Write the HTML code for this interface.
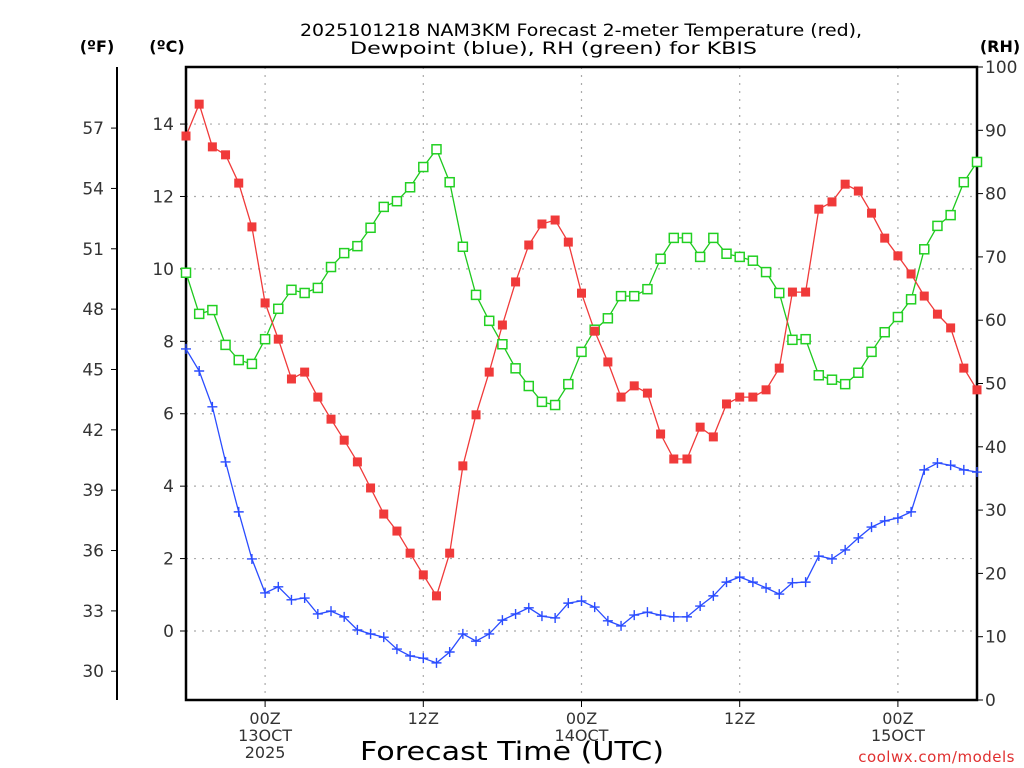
<!DOCTYPE html>
<html><head><meta charset="utf-8"><style>
html,body{margin:0;padding:0;background:#fff;}
svg{display:block;font-family:"DejaVu Sans","Liberation Sans",sans-serif;}
</style></head><body>
<svg id="chart" width="1024" height="768" viewBox="0 0 1024 768" xmlns="http://www.w3.org/2000/svg">
<rect width="1024" height="768" fill="#fff"/>
<g id="grid"></g>
<g id="axes"></g>
<g id="series"></g>
<text x="300" y="36" font-size="17" textLength="562" lengthAdjust="spacingAndGlyphs">2025101218 NAM3KM Forecast 2-meter Temperature (red),</text>
<text x="350" y="54" font-size="17" textLength="407" lengthAdjust="spacingAndGlyphs">Dewpoint (blue), RH (green) for KBIS</text>
<text x="97" y="52" font-size="16" font-weight="bold" text-anchor="middle">(ºF)</text>
<text x="167" y="52" font-size="16" font-weight="bold" text-anchor="middle">(ºC)</text>
<text x="1000" y="52" font-size="16" font-weight="bold" text-anchor="middle">(RH)</text>
<text x="360" y="760" font-size="26" textLength="304" lengthAdjust="spacingAndGlyphs">Forecast Time (UTC)</text>
<text x="1015" y="762" font-size="15" fill="#e03030" text-anchor="end" letter-spacing="0.5">coolwx.com/models</text>
</svg>
<script>
const tempC = [13.67,14.55,13.37,13.15,12.37,11.16,9.06,8.06,6.96,7.15,6.46,5.85,5.27,4.67,3.95,3.23,2.76,2.15,1.55,0.97,2.15,4.56,5.97,7.15,8.45,9.64,10.66,11.24,11.35,10.74,9.33,8.28,7.43,6.46,6.77,6.57,5.44,4.75,4.75,5.63,5.36,6.27,6.46,6.46,6.66,7.26,9.36,9.36,11.65,11.85,12.34,12.15,11.54,10.85,10.36,9.86,9.25,8.75,8.37,7.26,6.66];
const dewC = [7.79,7.18,6.19,4.67,3.29,1.99,1.05,1.22,0.86,0.91,0.47,0.55,0.39,0.03,-0.08,-0.17,-0.50,-0.69,-0.75,-0.88,-0.58,-0.08,-0.28,-0.08,0.30,0.47,0.64,0.41,0.36,0.77,0.83,0.66,0.28,0.14,0.44,0.52,0.44,0.39,0.39,0.69,0.97,1.35,1.49,1.35,1.19,1.02,1.33,1.35,2.07,1.99,2.24,2.57,2.87,3.04,3.12,3.29,4.45,4.64,4.58,4.45,4.39];
const rh = [67.5,61.0,61.6,56.1,53.7,53.1,57.0,61.8,64.8,64.3,65.1,68.4,70.6,71.7,74.6,77.9,78.8,81.0,84.2,87.0,81.8,71.6,64.0,59.9,56.2,52.4,49.6,47.1,46.6,49.9,55.0,58.5,60.3,63.8,63.8,64.9,69.7,73.0,73.0,70.0,73.0,70.5,70.0,69.4,67.6,64.3,56.9,57.0,51.3,50.6,49.9,51.7,55.0,58.1,60.5,63.3,71.2,74.9,76.6,81.8,85.0];
const cTicks = [0,2,4,6,8,10,12,14];
const fTicks = [30,33,36,39,42,45,48,51,54,57];
const rhTicks = [0,10,20,30,40,50,60,70,80,90,100];
const timeTicks = [6,18,30,42,54];
const timeLabels = [["00Z","13OCT","2025"],["12Z"],["00Z","14OCT"],["12Z"],["00Z","15OCT"]];

const NS="http://www.w3.org/2000/svg";
const L=186,R=977,T=67,B=700;
const xS=h=>L+(R-L)*h/60;
const yC=c=>631-c*36.21;
const yF=f=>yC((f-32)*5/9);
const yR=r=>B-(B-T)*r/100;
function mk(p,tag,a){const e=document.createElementNS(NS,tag);for(const k in a)e.setAttribute(k,a[k]);p.appendChild(e);return e;}
const grid=document.getElementById('grid'),axes=document.getElementById('axes'),ser=document.getElementById('series');

cTicks.forEach(c=>{
  const y=yC(c);
  const g=mk(grid,'line',{x1:L,x2:R,y1:y,y2:y,stroke:'#aaa','stroke-dasharray':'2,6','stroke-width':1.2});
  
  
  const t=mk(axes,'line',{x1:L-6,x2:L,y1:y,y2:y,stroke:'#000','stroke-width':1});
  
  
  const tx=mk(axes,'text',{x:L-12,y:y+6,'font-size':17,'text-anchor':'end',fill:'#333'});tx.textContent=c;
  
  
});
fTicks.forEach(f=>{
  const y=yF(f);
  const t=mk(axes,'line',{x1:111,x2:117,y1:y,y2:y,stroke:'#000','stroke-width':1});
  
  
  const tx=mk(axes,'text',{x:104,y:y+6,'font-size':17,'text-anchor':'end',fill:'#333'});tx.textContent=f;
  
  
});
rhTicks.forEach(r=>{
  const y=yR(r);
  const t=mk(axes,'line',{x1:R,x2:R+6,y1:y,y2:y,stroke:'#000','stroke-width':1});
  
  
  const tx=mk(axes,'text',{x:985,y:y+6,'font-size':17,'text-anchor':'start',fill:'#333'});tx.textContent=r;
  
  
});
timeTicks.forEach((h,i)=>{
  const x=xS(h);
  const g=mk(grid,'line',{x1:x,x2:x,y1:T,y2:B,stroke:'#aaa','stroke-dasharray':'2,6','stroke-width':1.2});
  
  
  const t=mk(axes,'line',{x1:x,x2:x,y1:B,y2:B+7,stroke:'#000','stroke-width':1});
  
  
  timeLabels[i].forEach((s,j)=>{
    const tx=mk(axes,'text',{x:x,y:B+24+j*17,'font-size':16,'text-anchor':'middle',fill:'#333'});tx.textContent=s;
    
    
  });
});
const fl=mk(axes,'line',{x1:117,x2:117,y1:T,y2:B,stroke:'#000','stroke-width':2});


const fr=mk(axes,'rect',{x:L,y:T,width:R-L,height:B-T,fill:'none',stroke:'#000','stroke-width':2.5});



function line(vals,yf,color,name){
  const pts=vals.map((v,i)=>xS(i).toFixed(1)+','+yf(v).toFixed(1)).join(' ');
  const p=mk(ser,'polyline',{points:pts,fill:'none',stroke:color,'stroke-width':1.3});
  
  
}
line(rh,yR,'#1ec81e','rh-line');
line(tempC,yC,'#f03a3a','temperature-line');
line(dewC,yC,'#2a4cff','dewpoint-line');
rh.forEach((v,i)=>{
  const m=mk(ser,'rect',{x:xS(i)-4.5,y:yR(v)-4.5,width:9,height:9,fill:'#fff',stroke:'#22d022','stroke-width':1.5});
  
  
});
tempC.forEach((v,i)=>{
  const m=mk(ser,'rect',{x:xS(i)-4.5,y:yC(v)-4.5,width:9,height:9,fill:'#f03a3a'});
  
  
});
dewC.forEach((v,i)=>{
  const x=xS(i),y=yC(v);
  const m=mk(ser,'path',{d:`M${x-5},${y}H${x+5}M${x},${y-5}V${y+5}`,stroke:'#2a4cff','stroke-width':1.4,fill:'none'});
  
  
});
</script>
</body></html>
